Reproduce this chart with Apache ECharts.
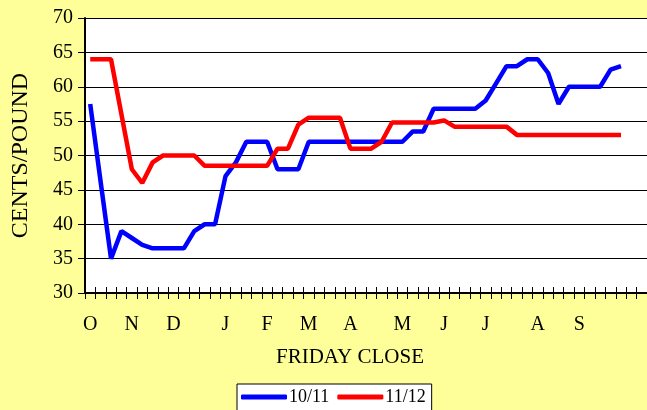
<!DOCTYPE html>
<html>
<head>
<meta charset="utf-8">
<script src="https://cdn.jsdelivr.net/npm/echarts@6/dist/echarts.min.js"></script>
<style>
  html, body { margin: 0; padding: 0; background: #FFFF99; }
  #chart { width: 647px; height: 410px; }
</style>
</head>
<body>
<div id="chart"></div>
<script>
// weekly friday closes, month letter on first friday of each month
const weeks = [
  'O', '', '', '', 'N', '', '', '', 'D', '', '', '', '', 'J', '', '', '', 'F', '', '', '',
  'M', '', '', '', 'A', '', '', '', '', 'M', '', '', '', 'J', '', '', '', 'J', '', '', '', '',
  'A', '', '', '', 'S', '', '', '', '', '', ''
]

const series1011 = [
  57.5, 46.2, 35, 39, 38, 37, 36.5, 36.5, 36.5, 36.5, 39, 40, 40, 47, 49, 52, 52, 52,
  48, 48, 48, 52, 52, 52, 52, 52, 52, 52, 52, 52, 52, 53.5, 53.5, 56.8, 56.8, 56.8,
  56.8, 56.8, 58, 60.5, 63, 63, 64, 64, 62, 57.5, 60, 60, 60, 60, 62.5, 63
]

const series1112 = [
  64, 64, 64, 56, 48, 46, 49, 50, 50, 50, 50, 48.5, 48.5, 48.5, 48.5, 48.5, 48.5, 48.5,
  51, 51, 54.5, 55.5, 55.5, 55.5, 55.5, 51, 51, 51, 52, 54.8, 54.8, 54.8, 54.8, 54.8,
  55.1, 54.2, 54.2, 54.2, 54.2, 54.2, 54.2, 53, 53, 53, 53, 53, 53, 53, 53, 53, 53, 53
]

const yTicks = [30, 35, 40, 45, 50, 55, 60, 65, 70]

const font = 'Liberation Serif'
const chart = echarts.init(document.getElementById('chart'))

chart.setOption({
  backgroundColor: '#FFFF99',
  animation: false,
  grid: {
    left: 85,
    top: 18,
    width: 563,
    height: 275,
    backgroundColor: '#ffffff',
    show: true,
    borderWidth: 0
  },
  legend: {
    left: 237,
    top: 384,
    padding: [4, 6, 10, 4],
    itemGap: 8,
    itemWidth: 46,
    itemHeight: 5,
    icon: 'roundRect',
    backgroundColor: '#ffffff',
    borderColor: '#000000',
    borderWidth: 1,
    textStyle: { fontFamily: font, fontSize: 18, color: '#000', padding: [0, 0, 0, -3] },
    data: ['10/11', '11/12']
  },
  xAxis: [{
    type: 'category',
    data: weeks,
    boundaryGap: true,
    name: 'FRIDAY CLOSE',
    nameLocation: 'middle',
    nameGap: 54,
    nameTextStyle: { fontFamily: font, fontSize: 21, color: '#000', padding: [0, 32, 0, 0] },
    axisLine: { lineStyle: { color: '#000', width: 2 } },
    axisTick: { show: true, interval: 0, length: 6, lineStyle: { color: '#000' } },
    axisLabel: { interval: 0, margin: 22, fontFamily: font, fontSize: 20, color: '#000' },
    splitLine: { show: false }
  }, {
    // second copy for the inner half of the crossing ticks
    type: 'category',
    data: weeks,
    boundaryGap: true,
    position: 'bottom',
    axisLine: { show: false },
    axisTick: { show: true, inside: true, interval: 0, length: 6, lineStyle: { color: '#000' } },
    axisLabel: { show: false },
    splitLine: { show: false }
  }],
  yAxis: {
    type: 'value',
    min: yTicks[0],
    max: yTicks[yTicks.length - 1],
    interval: 5,
    name: 'CENTS/POUND',
    nameLocation: 'middle',
    nameGap: 52,
    nameTextStyle: { fontFamily: font, fontSize: 24, color: '#000' },
    axisLine: { show: true, lineStyle: { color: '#000', width: 2 } },
    axisTick: { show: true, length: 7, lineStyle: { color: '#000' } },
    axisLabel: { margin: 12, fontFamily: font, fontSize: 20, color: '#000' },
    splitLine: { show: true, lineStyle: { color: '#000', width: 1 } }
  },
  series: [{
    name: '10/11',
    type: 'line',
    data: series1011,
    symbol: 'none',
    lineStyle: { color: '#0000FF', width: 4.5 },
    itemStyle: { color: '#0000FF' }
  }, {
    name: '11/12',
    type: 'line',
    data: series1112,
    symbol: 'none',
    lineStyle: { color: '#FF0000', width: 4.5 },
    itemStyle: { color: '#FF0000' }
  }]
})
</script>
</body>
</html>
